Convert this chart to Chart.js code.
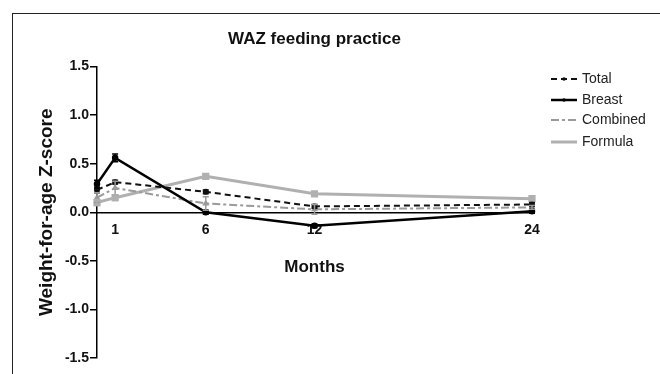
<!DOCTYPE html>
<html>
<head>
<meta charset="utf-8">
<script src="https://cdn.jsdelivr.net/npm/chart.js@4/dist/chart.umd.min.js"></script>
<style>
  html, body { margin: 0; padding: 0; background: #fff; overflow: hidden; }
  #wrap { position: relative; width: 660px; height: 374px; overflow: hidden; }
  #frame { position: absolute; left: 12px; top: 13px; width: 700px; height: 400px; border: 1px solid #222; box-sizing: border-box; }
  #c { position: absolute; left: 0; top: 0; }
</style>
</head>
<body>
<div id="wrap">
  <div id="frame"></div>
  <canvas id="c" width="660" height="374"></canvas>
</div>
<script>
// Age at measurement (months)
const months = [0, 1, 6, 12, 24];
const xTicks = [1, 6, 12, 24];

// Mean weight-for-age Z-scores by feeding group, with error bar half-widths
const total       = [0.23, 0.31, 0.21, 0.06, 0.08];
const totalErr    = [0.03, 0.02, 0.02, 0.02, 0.02];
const breast      = [0.29, 0.56, 0.00, -0.14, 0.01];
const breastErr   = [0.04, 0.04, 0.02, 0.02, 0.02];
const combined    = [0.15, 0.25, 0.09, 0.03, 0.05];
const combinedErr = [0.05, 0.07, 0.07, 0.05, 0.02];
const formula     = [0.10, 0.15, 0.37, 0.19, 0.14];
const formulaErr  = [0.03, 0.03, 0.02, 0.02, 0.02];

const FONT = '"Liberation Sans", Arial, Helvetica, sans-serif';

function pts(ys) { return months.map((m, i) => ({ x: m, y: ys[i] })); }

// Vertical error bars with caps, drawn from each dataset's errors array
const errorBars = {
  id: 'errorBars',
  afterDatasetsDraw(chart) {
    const { ctx, scales: { x, y } } = chart;
    chart.data.datasets.forEach((ds) => {
      if (!ds.errors) return;
      ctx.save();
      ctx.strokeStyle = ds.borderColor;
      ctx.lineWidth = 1.5;
      ds.data.forEach((p, i) => {
        const e = ds.errors[i];
        const px = x.getPixelForValue(p.x);
        const y1 = y.getPixelForValue(p.y + e);
        const y2 = y.getPixelForValue(p.y - e);
        ctx.beginPath();
        ctx.moveTo(px, y1); ctx.lineTo(px, y2);
        ctx.moveTo(px - 3, y1); ctx.lineTo(px + 3, y1);
        ctx.moveTo(px - 3, y2); ctx.lineTo(px + 3, y2);
        ctx.stroke();
      });
      ctx.restore();
    });
  }
};

// Legend to the right of the plot, using each dataset's own line style
const sideLegend = {
  id: 'sideLegend',
  afterDraw(chart) {
    const { ctx } = chart;
    const x0 = 551, x1 = 577, tx = 582;
    const rows = [79, 100, 120, 142];
    ctx.save();
    chart.data.datasets.forEach((ds, i) => {
      const yy = rows[i];
      ctx.strokeStyle = ds.borderColor;
      ctx.lineWidth = ds.borderWidth;
      ctx.setLineDash(ds.borderDash || []);
      ctx.beginPath(); ctx.moveTo(x0, yy); ctx.lineTo(x1, yy); ctx.stroke();
      ctx.setLineDash([]);
      if (ds.legendMarker) {
        ctx.fillStyle = ds.borderColor;
        ctx.beginPath(); ctx.arc((x0 + x1) / 2, yy, 1.8, 0, Math.PI * 2); ctx.fill();
      }
      ctx.fillStyle = '#222';
      ctx.font = '14px ' + FONT;
      ctx.textAlign = 'left';
      ctx.textBaseline = 'middle';
      ctx.fillText(ds.label, tx, yy);
    });
    ctx.restore();
  }
};

new Chart(document.getElementById('c'), {
  type: 'line',
  data: {
    datasets: [
      { label: 'Total', data: pts(total), errors: totalErr, borderColor: '#111', backgroundColor: '#111',
        borderWidth: 2, borderDash: [6, 4], pointRadius: 2, pointStyle: 'circle', legendMarker: true, clip: false },
      { label: 'Breast', data: pts(breast), errors: breastErr, borderColor: '#000', backgroundColor: '#000',
        borderWidth: 2.5, pointRadius: 2, pointStyle: 'circle', legendMarker: true, clip: false },
      { label: 'Combined', data: pts(combined), errors: combinedErr, borderColor: '#9a9a9a', backgroundColor: '#9a9a9a',
        borderWidth: 2, borderDash: [8, 3, 3, 3], pointRadius: 2, pointStyle: 'triangle', clip: false },
      { label: 'Formula', data: pts(formula), errors: formulaErr, borderColor: '#b0b0b0', backgroundColor: '#b0b0b0',
        borderWidth: 3, pointRadius: 3, pointStyle: 'rect', clip: false }
    ]
  },
  options: {
    responsive: false,
    animation: false,
    layout: { padding: { left: 35.6, right: 128, top: 20.5, bottom: 16 } },
    plugins: {
      legend: { display: false },
      tooltip: { enabled: false },
      title: {
        display: true,
        text: 'WAZ feeding practice',
        fullSize: false,
        color: '#111',
        font: { family: FONT, size: 17, weight: 'bold' },
        padding: { top: 8.8, bottom: 16.8 }
      }
    },
    scales: {
      x: {
        type: 'linear',
        min: 0,
        max: 24,
        position: { y: 0 },
        afterBuildTicks(axis) { axis.ticks = xTicks.map(v => ({ value: v })); },
        grid: { display: false, drawTicks: false },
        border: { display: true, color: '#000', width: 1.5 },
        ticks: {
          padding: 9,
          color: '#111',
          maxRotation: 0,
          autoSkip: false,
          font: { family: FONT, size: 14, weight: 'bold' }
        },
        title: {
          display: true,
          text: 'Months',
          color: '#111',
          font: { family: FONT, size: 17, weight: 'bold' },
          padding: { top: 10, bottom: 0 }
        }
      },
      y: {
        type: 'linear',
        min: -1.5,
        max: 1.5,
        position: 'left',
        afterFit(scale) { scale.width = 97 - 35.6; },
        grid: { drawOnChartArea: false, drawTicks: true, tickLength: 7, color: '#000', lineWidth: 1.5 },
        border: { display: true, color: '#000', width: 1.5 },
        ticks: {
          stepSize: 0.5,
          padding: 1,
          color: '#111',
          font: { family: FONT, size: 14, weight: 'bold' },
          callback: v => v.toFixed(1)
        },
        title: {
          display: true,
          text: 'Weight-for-age Z-score',
          color: '#111',
          font: { family: FONT, size: 19, weight: 'bold' },
          padding: 0
        }
      }
    }
  },
  plugins: [errorBars, sideLegend]
});
</script>
</body>
</html>
